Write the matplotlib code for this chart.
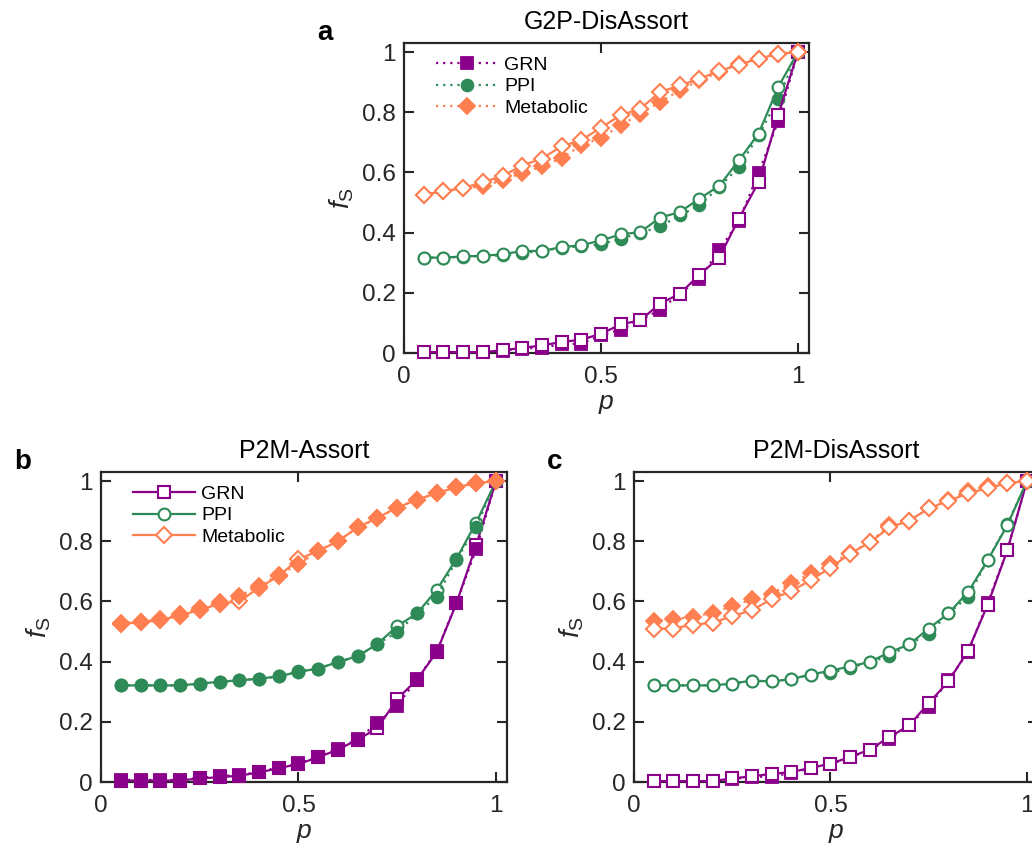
import matplotlib
matplotlib.use("Agg")
import matplotlib.pyplot as plt

plt.rcParams["font.family"] = ["Liberation Sans", "DejaVu Sans"]
plt.rcParams["mathtext.fontset"] = "custom"
plt.rcParams["mathtext.rm"] = "Liberation Sans"
plt.rcParams["mathtext.it"] = "Liberation Sans:italic"

# fraction of attacked nodes
p = [0.05, 0.10, 0.15, 0.20, 0.25, 0.30, 0.35, 0.40, 0.45, 0.50,
     0.55, 0.60, 0.65, 0.70, 0.75, 0.80, 0.85, 0.90, 0.95, 1.00]

networks = ["GRN", "PPI", "Metabolic"]

# G2P-DisAssort: filled = dotted, open = solid
a_grn_fill = [0.003, 0.003, 0.003, 0.003, 0.008, 0.014, 0.018, 0.029, 0.031, 0.059,
              0.078, 0.109, 0.144, 0.197, 0.247, 0.341, 0.439, 0.598, 0.771, 1.0]
a_grn_open = [0.003, 0.003, 0.003, 0.003, 0.009, 0.017, 0.025, 0.037, 0.044, 0.064,
              0.095, 0.109, 0.164, 0.197, 0.260, 0.317, 0.446, 0.568, 0.792, 1.0]
a_ppi_fill = [0.317, 0.317, 0.319, 0.323, 0.324, 0.332, 0.339, 0.350, 0.354, 0.361,
              0.380, 0.398, 0.421, 0.457, 0.491, 0.551, 0.618, 0.723, 0.845, 1.0]
a_ppi_open = [0.317, 0.317, 0.321, 0.323, 0.328, 0.339, 0.339, 0.352, 0.358, 0.374,
              0.394, 0.402, 0.450, 0.468, 0.513, 0.555, 0.640, 0.729, 0.884, 1.0]
a_met_fill = [0.526, 0.537, 0.548, 0.554, 0.574, 0.598, 0.620, 0.648, 0.690, 0.715,
              0.756, 0.795, 0.834, 0.873, 0.906, 0.933, 0.961, 0.978, 0.992, 1.0]
a_met_open = [0.526, 0.537, 0.548, 0.568, 0.588, 0.623, 0.646, 0.687, 0.707, 0.749,
              0.790, 0.812, 0.867, 0.889, 0.911, 0.937, 0.958, 0.978, 0.994, 1.0]

# P2M-Assort
b_grn_fill = [0.007, 0.007, 0.007, 0.007, 0.014, 0.020, 0.023, 0.034, 0.048, 0.062,
              0.084, 0.110, 0.143, 0.196, 0.253, 0.342, 0.434, 0.596, 0.773, 1.0]
b_grn_open = [0.005, 0.005, 0.005, 0.005, 0.012, 0.016, 0.021, 0.032, 0.046, 0.060,
              0.082, 0.108, 0.141, 0.179, 0.276, 0.340, 0.432, 0.594, 0.787, 1.0]
b_ppi_fill = [0.321, 0.321, 0.321, 0.321, 0.327, 0.333, 0.338, 0.343, 0.351, 0.368,
              0.377, 0.399, 0.418, 0.459, 0.498, 0.560, 0.616, 0.738, 0.848, 1.0]
b_ppi_open = [0.321, 0.321, 0.321, 0.321, 0.327, 0.333, 0.338, 0.343, 0.351, 0.366,
              0.377, 0.399, 0.418, 0.459, 0.518, 0.560, 0.638, 0.742, 0.862, 1.0]
b_met_fill = [0.529, 0.532, 0.540, 0.557, 0.577, 0.598, 0.618, 0.651, 0.688, 0.723,
              0.768, 0.801, 0.846, 0.876, 0.912, 0.938, 0.959, 0.979, 0.992, 1.0]
b_met_open = [0.526, 0.530, 0.538, 0.553, 0.572, 0.592, 0.601, 0.645, 0.685, 0.740,
              0.768, 0.800, 0.846, 0.878, 0.912, 0.938, 0.960, 0.980, 0.993, 1.0]

# P2M-DisAssort
c_grn_fill = [0.003, 0.003, 0.003, 0.003, 0.010, 0.017, 0.018, 0.030, 0.046, 0.060,
              0.082, 0.107, 0.143, 0.190, 0.249, 0.338, 0.432, 0.596, 0.770, 1.0]
c_grn_open = [0.003, 0.003, 0.003, 0.003, 0.012, 0.019, 0.027, 0.033, 0.047, 0.061,
              0.083, 0.108, 0.149, 0.188, 0.262, 0.334, 0.436, 0.589, 0.770, 1.0]
c_ppi_fill = [0.321, 0.321, 0.321, 0.321, 0.327, 0.337, 0.334, 0.342, 0.357, 0.362,
              0.379, 0.399, 0.418, 0.457, 0.493, 0.560, 0.616, 0.737, 0.857, 1.0]
c_ppi_open = [0.321, 0.321, 0.321, 0.321, 0.327, 0.337, 0.334, 0.342, 0.357, 0.370,
              0.384, 0.399, 0.431, 0.457, 0.510, 0.560, 0.631, 0.737, 0.853, 1.0]
c_met_fill = [0.534, 0.540, 0.549, 0.562, 0.584, 0.607, 0.626, 0.660, 0.693, 0.723,
              0.762, 0.796, 0.853, 0.868, 0.909, 0.937, 0.968, 0.984, 0.995, 1.0]
c_met_open = [0.510, 0.510, 0.523, 0.529, 0.551, 0.571, 0.607, 0.634, 0.671, 0.712,
              0.759, 0.796, 0.846, 0.868, 0.909, 0.934, 0.959, 0.976, 0.993, 1.0]

colors = {"GRN": "#8B008B", "PPI": "#2E8B57", "Metabolic": "#FF7F50"}
markers = {"GRN": "s", "PPI": "o", "Metabolic": "D"}
msize = {"GRN": 8, "PPI": 8.5, "Metabolic": 8}
axis_col = "#262626"

panels = [
    dict(tag="a", title="G2P-DisAssort", rect=[0.3915, 0.5837, 0.3924, 0.3656],
         fill=[a_grn_fill, a_ppi_fill, a_met_fill],
         open=[a_grn_open, a_ppi_open, a_met_open],
         filled_on_top=False, legend="fill"),
    dict(tag="b", title="P2M-Assort", rect=[0.0979, 0.0778, 0.3934, 0.3656],
         fill=[b_grn_fill, b_ppi_fill, b_met_fill],
         open=[b_grn_open, b_ppi_open, b_met_open],
         filled_on_top=True, legend="open"),
    dict(tag="c", title="P2M-DisAssort", rect=[0.6143, 0.0778, 0.3915, 0.3656],
         fill=[c_grn_fill, c_ppi_fill, c_met_fill],
         open=[c_grn_open, c_ppi_open, c_met_open],
         filled_on_top=False, legend=None),
]

fig = plt.figure(figsize=(10.32, 8.48), dpi=100)

for panel in panels:
    ax = fig.add_axes(panel["rect"])
    z_fill, z_open = (4, 3) if panel["filled_on_top"] else (3, 4)
    h_fill, h_open = [], []
    for name, yf, yo in zip(networks, panel["fill"], panel["open"]):
        col = colors[name]
        hf, = ax.plot(p, yf, linestyle=(0, (1, 2.2)), lw=1.6, color=col,
                      marker=markers[name], ms=msize[name], mfc=col, mec=col,
                      mew=1.3, zorder=z_fill, clip_on=False, label=name)
        ho, = ax.plot(p, yo, linestyle="-", lw=1.6, color=col,
                      marker=markers[name], ms=msize[name], mfc="white", mec=col,
                      mew=1.5, zorder=z_open, clip_on=False, label=name)
        h_fill.append(hf)
        h_open.append(ho)

    ax.set_xlim(0, 1.028)
    ax.set_ylim(0, 1.03)
    ax.set_xticks([0, 0.5, 1])
    ax.set_xticklabels(["0", "0.5", "1"])
    ax.set_yticks([0, 0.2, 0.4, 0.6, 0.8, 1])
    ax.set_yticklabels(["0", "0.2", "0.4", "0.6", "0.8", "1"])
    ax.tick_params(direction="in", length=7, width=1.5, top=True, right=True,
                   labelsize=17.5, colors=axis_col)
    ax.tick_params(axis="x", pad=9)
    ax.tick_params(axis="y", pad=6)
    for s in ax.spines.values():
        s.set_linewidth(1.6)
        s.set_color(axis_col)

    ax.set_xlabel(r"$p$", fontsize=19, color=axis_col, labelpad=3)
    ax.set_ylabel(r"$f_{\mathrm{S}}$", fontsize=20, color=axis_col, labelpad=4)
    ax.set_title(panel["title"], fontsize=18, color="black", pad=10)
    ax.text(-0.215, 1.032, panel["tag"], transform=ax.transAxes,
            fontsize=20, fontweight="bold", va="center", ha="left")

    if panel["legend"] is not None:
        handles = h_fill if panel["legend"] == "fill" else h_open
        ax.legend(handles, networks, loc="upper left", frameon=False,
                  fontsize=14, handlelength=3.2, handletextpad=0.3,
                  labelspacing=0.2, borderaxespad=0.2,
                  bbox_to_anchor=(0.05, 0.995))

fig.savefig("out.png", dpi=100)
